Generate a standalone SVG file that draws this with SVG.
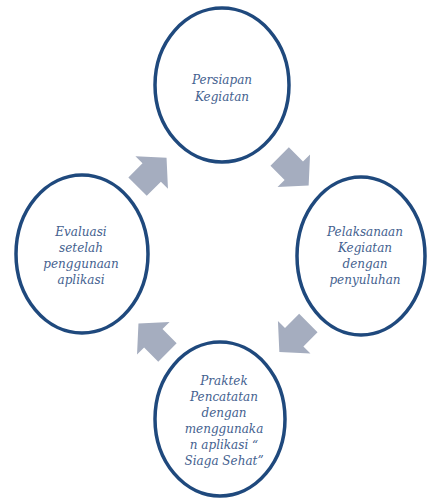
<svg xmlns="http://www.w3.org/2000/svg" width="427" height="500" viewBox="0 0 427 500">
<style>
.n{fill:#fff;stroke:#1F497D;stroke-width:3.5}
.t{font-family:"DejaVu Serif","Liberation Serif",serif;font-style:italic;font-size:12px;fill:#44618F;text-anchor:middle}
.a{fill:#A5ADBF}
</style>
<defs>
<polygon id="arr" points="-20,-13 0,-13 0,-23 21,0 0,23 0,13 -20,13"/>
</defs>
<rect width="427" height="500" fill="#fff"/>
<g id="connectors">
<use href="#arr" class="a" transform="translate(151.7,172.5) rotate(-45)"/>
<use href="#arr" class="a" transform="translate(293.8,170.7) rotate(45)"/>
<use href="#arr" class="a" transform="translate(294.2,337.2) rotate(135)"/>
<use href="#arr" class="a" transform="translate(153.3,338.3) rotate(-135)"/>
</g>
<g id="node-persiapan">
<ellipse class="n" cx="222" cy="85" rx="67" ry="77"/>
<text class="t" x="222" y="84">Persiapan</text>
<text class="t" x="222" y="101">Kegiatan</text>
</g>
<g id="node-pelaksanaan">
<ellipse class="n" cx="361" cy="256" rx="64" ry="79"/>
<text class="t" x="365" y="236">Pelaksanaan</text>
<text class="t" x="365" y="252">Kegiatan</text>
<text class="t" x="365" y="268">dengan</text>
<text class="t" x="365" y="284">penyuluhan</text>
</g>
<g id="node-praktek">
<ellipse class="n" cx="220" cy="419" rx="65" ry="77"/>
<text class="t" x="224" y="385">Praktek</text>
<text class="t" x="224" y="401">Pencatatan</text>
<text class="t" x="224" y="417">dengan</text>
<text class="t" x="224" y="433">menggunaka</text>
<text class="t" x="224" y="449">n aplikasi “</text>
<text class="t" x="224" y="465">Siaga Sehat”</text>
</g>
<g id="node-evaluasi">
<ellipse class="n" cx="82" cy="254" rx="66" ry="79"/>
<text class="t" x="81" y="236">Evaluasi</text>
<text class="t" x="81" y="252">setelah</text>
<text class="t" x="81" y="268">penggunaan</text>
<text class="t" x="81" y="284">aplikasi</text>
</g>
</svg>
